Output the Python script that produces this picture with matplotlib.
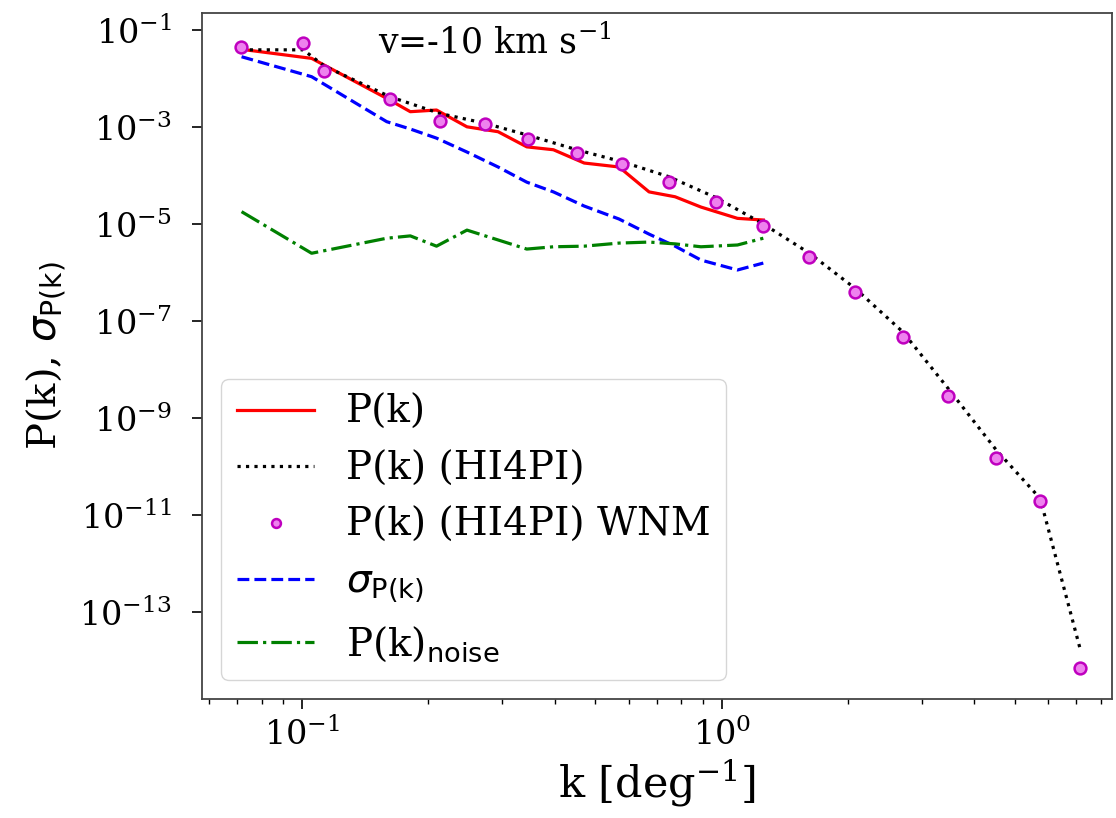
import matplotlib
matplotlib.use("Agg")
import matplotlib.pyplot as plt
import matplotlib.ticker as mticker
import numpy as np

plt.rcParams['font.family'] = 'serif'
plt.rcParams['mathtext.fontset'] = 'dejavusans'

# k grid of the observed spectrum (deg^-1)
k_obs = [0.0717, 0.1053, 0.159, 0.181, 0.209, 0.247, 0.293, 0.343, 0.397, 0.47,
         0.569, 0.671, 0.774, 0.892, 1.09, 1.256]
pk = [0.040, 0.026, 3.9e-3, 2.07e-3, 2.24e-3, 1.01e-3, 8.0e-4, 3.9e-4, 3.4e-4, 1.81e-4,
      1.50e-4, 4.6e-5, 3.65e-5, 2.24e-5, 1.31e-5, 1.21e-5]
sigma_pk = [0.0281, 0.0109, 1.29e-3, 9.1e-4, 5.9e-4, 3.05e-4, 1.50e-4, 7.3e-5, 4.6e-5, 2.35e-5,
            1.27e-5, 6.2e-6, 3.5e-6, 1.81e-6, 1.13e-6, 1.57e-6]
pk_noise = [1.8e-5, 2.5e-6, 5.1e-6, 5.7e-6, 3.5e-6, 7.5e-6, 4.7e-6, 3.05e-6, 3.4e-6, 3.5e-6,
            4.05e-6, 4.25e-6, 3.9e-6, 3.4e-6, 3.7e-6, 5.1e-6]

# HI4PI spectrum
k_hi = [0.0716, 0.1006, 0.113, 0.162, 0.213, 0.272, 0.345, 0.451, 0.578, 0.747,
        0.969, 1.252, 1.618, 2.08, 2.70, 3.47, 4.51, 5.74, 7.14]
pk_hi4pi = [0.039, 0.039, 0.018, 0.0042, 0.0019, 0.0012, 6.8e-4, 3.4e-4, 1.93e-4, 9.5e-5,
            3.5e-5, 1.02e-5, 2.5e-6, 4.7e-7, 6.0e-8, 4.0e-9, 2.2e-10, 2.2e-11, 1.8e-14]
pk_wnm = [0.045, 0.053, 0.0143, 0.0038, 0.00135, 0.00114, 5.6e-4, 2.86e-4, 1.73e-4, 7.2e-5,
          2.8e-5, 9.1e-6, 2.06e-6, 4.0e-7, 4.8e-8, 2.8e-9, 1.5e-10, 2.0e-11, 6.9e-15]

fig = plt.figure(figsize=(11.16, 8.18), dpi=100)
ax = fig.add_axes([0.1807, 0.1455, 0.8157, 0.839])

lw = 2.3
ax.plot(k_obs, pk, color='red', lw=lw, label='P(k)')
ax.plot(k_hi, pk_hi4pi, color='black', ls=':', lw=lw, label='P(k) (HI4PI)')
ax.plot(k_hi, pk_wnm, ls='none', marker='o', ms=8.5, mfc='violet', mec='m', mew=1.8,
        label='P(k) (HI4PI) WNM')
ax.plot(k_obs, sigma_pk, color='blue', ls='--', lw=lw, label=r'$\sigma_{\rm P(k)}$')
ax.plot(k_obs, pk_noise, color='green', ls='-.', lw=lw, label=r'P(k)$_{\rm noise}$')

ax.set_xscale('log')
ax.set_yscale('log')
ax.set_xlim(10**-1.2396, 10**0.93)
ax.set_ylim(10**-14.79, 10**-0.643)
ax.yaxis.set_major_locator(mticker.FixedLocator([1e-13, 1e-11, 1e-9, 1e-7, 1e-5, 1e-3, 1e-1]))
ax.yaxis.set_minor_locator(mticker.NullLocator())

ax.tick_params(which='major', length=7.5, width=1.2, labelsize=24, pad=6)
ax.tick_params(which='minor', length=3.5, width=1.0)
ax.tick_params(axis='y', which='major', pad=14)
for s in ax.spines.values():
    s.set_linewidth(1.3)
    s.set_color('#444444')

ax.set_xlabel(r'k [deg$^{\mathdefault{-1}}$]', fontsize=31)
ax.set_ylabel(r'P(k), $\sigma_{\rm P(k)}$', fontsize=29, labelpad=8)

ax.text(0.194, 0.941, r'v=-10 km s$^{\mathdefault{-1}}$', transform=ax.transAxes,
        fontsize=25, va='baseline', ha='left')

ax.legend(loc='lower left', fontsize=28, borderaxespad=0.5, labelspacing=0.5,
          markerscale=0.75)

fig.savefig('out.png', dpi=100)
